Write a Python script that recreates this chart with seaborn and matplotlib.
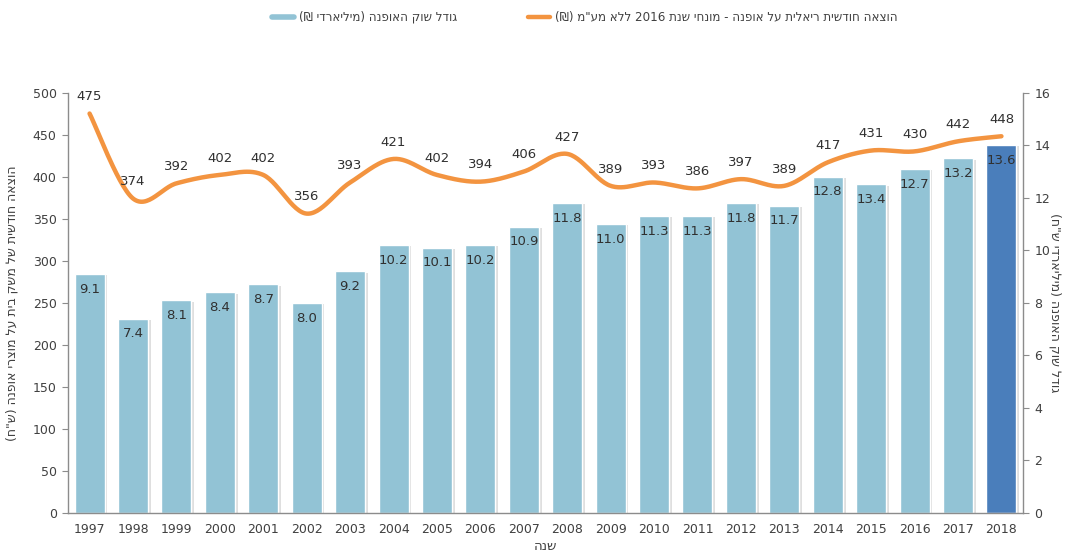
import re
import numpy as np
import pandas as pd
import matplotlib
matplotlib.use("Agg")
import matplotlib.pyplot as plt
import matplotlib.patheffects as pe
from matplotlib.lines import Line2D
import seaborn as sns

# ---------------- data ----------------
years = [str(y) for y in range(1997, 2019)]
monthly_spend = [475, 374, 392, 402, 402, 356, 393, 421, 402, 394, 406,
                 427, 389, 393, 386, 397, 389, 417, 431, 430, 442, 448]
market_size = [9.1, 7.4, 8.1, 8.4, 8.7, 8.0, 9.2, 10.2, 10.1, 10.2, 10.9,
               11.8, 11.0, 11.3, 11.3, 11.8, 11.7, 12.8, 12.5, 13.1, 13.5, 14.0]
market_labels = ["9.1", "7.4", "8.1", "8.4", "8.7", "8.0", "9.2", "10.2", "10.1",
                 "10.2", "10.9", "11.8", "11.0", "11.3", "11.3", "11.8", "11.7",
                 "12.8", "13.4", "12.7", "13.2", "13.6"]
left_ticks = list(range(0, 501, 50))
right_ticks = list(range(0, 17, 2))

legend_bar = 'גודל שוק האופנה (מיליארדי ₪)'
legend_line = 'הוצאה חודשית ריאלית על אופנה - מונחי שנת 2016 ללא מע"מ (₪)'
left_label = 'הוצאה חודשית של משק בית על מוצרי אופנה (ש"ח)'
right_label = 'גודל שוק האופנה (מיליארדי ש"ח)'
x_label = 'שנה'


def visual(s):
    """Simple RTL -> visual order conversion (keeps digit runs LTR)."""
    r = s[::-1]
    r = re.sub(r'\d+', lambda m: m.group()[::-1], r)
    r = r.translate(str.maketrans('()', ')('))
    return r


# ---------------- style ----------------
sns.set_style("white")
plt.rcParams['font.family'] = ['DejaVu Sans']
text_col = '#404040'
spine_col = '#8c8c8c'
bar_col = '#92C3D5'
last_col = '#4A7EBB'
line_col = '#F39440'

fig = plt.figure(figsize=(10.77, 5.54), dpi=100)
ax = fig.add_axes([0.063, 0.074, 0.887, 0.759])
ax2 = ax.twinx()

# bars on right axis
df = pd.DataFrame({'year': years, 'size': market_size})
palette = [bar_col] * (len(years) - 1) + [last_col]
sns.barplot(data=df, x='year', y='size', hue='year', palette=palette,
            legend=False, ax=ax2, width=0.69, saturation=1)
for p in ax2.patches:
    p.set_path_effects([pe.SimplePatchShadow(offset=(2, -1), alpha=0.25, shadow_rgbFace='#808080'),
                        pe.Normal()])
for i, (v, lab) in enumerate(zip(market_size, market_labels)):
    ax2.annotate(lab, (i, v), xytext=(0, -11), textcoords='offset points',
                 ha='center', va='center', fontsize=9.5, color='#303030')

# smoothed line (Excel-like bezier smoothing) on left axis
xs = np.arange(len(years), dtype=float)
ys = np.array(monthly_spend, dtype=float)
cx, cy = [], []
t = np.linspace(0, 1, 30)
for i in range(len(xs) - 1):
    i0 = max(i - 1, 0)
    i3 = min(i + 2, len(xs) - 1)
    p0 = np.array([xs[i], ys[i]])
    p3 = np.array([xs[i + 1], ys[i + 1]])
    c1 = p0 + (np.array([xs[i + 1], ys[i + 1]]) - np.array([xs[i0], ys[i0]])) / 6.0
    c2 = p3 - (np.array([xs[i3], ys[i3]]) - np.array([xs[i], ys[i]])) / 6.0
    b = ((1 - t) ** 3)[:, None] * p0 + (3 * (1 - t) ** 2 * t)[:, None] * c1 \
        + (3 * (1 - t) * t ** 2)[:, None] * c2 + (t ** 3)[:, None] * p3
    cx.extend(b[:, 0])
    cy.extend(b[:, 1])
sns.lineplot(x=cx, y=cy, ax=ax, color=line_col, linewidth=3.2, sort=False,
             solid_capstyle='round')
for i, v in enumerate(monthly_spend):
    ax.annotate(str(v), (i, v), xytext=(0, 12), textcoords='offset points',
                ha='center', va='center', fontsize=9.5, color='#303030')

ax.set_zorder(ax2.get_zorder() + 1)
ax.patch.set_visible(False)

# axes
ax.set_xlim(-0.5, len(years) - 0.5)
ax2.set_xlim(-0.5, len(years) - 0.5)
ax.set_ylim(0, 500)
ax2.set_ylim(0, 16)
ax.set_yticks(left_ticks)
ax2.set_yticks(right_ticks)
ax.set_xticks(range(len(years)))
ax.set_xticklabels(years)
ax.set_xticks(np.arange(-0.5, len(years), 1.0), minor=True)
ax.tick_params(axis='x', which='major', length=0, pad=7, labelsize=9, labelcolor=text_col)
ax.tick_params(axis='x', which='minor', length=4, color=spine_col, direction='out')
ax.tick_params(axis='y', length=4, color=spine_col, labelsize=9, labelcolor=text_col, pad=4)
ax2.tick_params(axis='y', length=4, color=spine_col, labelsize=9, labelcolor=text_col, pad=4)
ax2.set_xlabel('')
ax2.set_ylabel('')
ax2.tick_params(axis='x', length=0)

for a in (ax, ax2):
    a.spines['top'].set_visible(False)
    for s in ('left', 'right', 'bottom'):
        a.spines[s].set_color(spine_col)
        a.spines[s].set_linewidth(1.0)
ax.spines['right'].set_visible(False)
ax2.spines['left'].set_visible(False)
ax2.spines['bottom'].set_visible(False)
ax.grid(False)
ax2.grid(False)

ax.set_ylabel(visual(left_label), fontsize=9, color=text_col, labelpad=10)
ax2.set_ylabel(visual(right_label), fontsize=9, color=text_col, rotation=270,
               labelpad=8)
ax.set_xlabel(visual(x_label), fontsize=9.5, color=text_col, labelpad=3)

handles = [Line2D([0], [0], color=bar_col, linewidth=4),
           Line2D([0], [0], color=line_col, linewidth=3.2)]
fig.legend(handles, [visual(legend_bar), visual(legend_line)], loc='upper center',
           bbox_to_anchor=(0.543, 1.0), ncol=2, frameon=False, fontsize=8.6,
           handlelength=1.8, columnspacing=6, labelcolor=text_col, handletextpad=0.4)

fig.savefig('out.png', dpi=100)
